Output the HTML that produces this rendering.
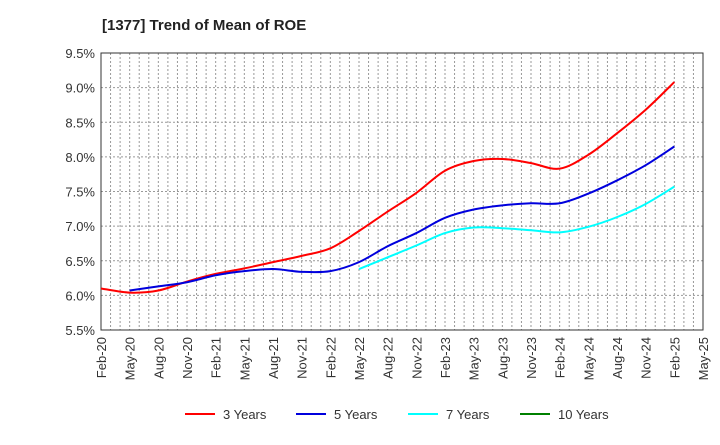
<!DOCTYPE html>
<html><head><meta charset="utf-8"><style>
body{margin:0;background:#fff;font-family:"Liberation Sans",sans-serif}
</style></head><body>
<svg width="720" height="440" xmlns="http://www.w3.org/2000/svg" font-family="Liberation Sans, sans-serif">
<text x="102" y="30" font-size="15" font-weight="bold" fill="#222">[1377]  Trend of Mean of ROE</text>
<g id="grid"></g>
<g id="axes"></g>
<g id="series"></g>
<g id="legend"></g>
</svg>
<script>
const xLabels=["Feb-20","May-20","Aug-20","Nov-20","Feb-21","May-21","Aug-21","Nov-21","Feb-22","May-22","Aug-22","Nov-22","Feb-23","May-23","Aug-23","Nov-23","Feb-24","May-24","Aug-24","Nov-24","Feb-25","May-25"];
const yTicks=[5.5,6.0,6.5,7.0,7.5,8.0,8.5,9.0,9.5];
const s3=[6.10,6.04,6.07,6.20,6.31,6.39,6.48,6.57,6.68,6.93,7.21,7.48,7.80,7.94,7.97,7.91,7.83,8.03,8.34,8.68,9.08];
const s5=[null,6.07,6.13,6.19,6.29,6.35,6.38,6.34,6.35,6.48,6.71,6.90,7.12,7.24,7.30,7.33,7.33,7.47,7.66,7.88,8.15];
const s7=[null,null,null,null,null,null,null,null,null,6.38,6.55,6.72,6.90,6.98,6.97,6.94,6.91,6.99,7.13,7.32,7.57];
const s10=[];
const L=101,R=703,T=53,B=330,NS="http://www.w3.org/2000/svg";
const xs=i=>L+(R-L)*i/21;
const ys=v=>B-(v-5.5)/4*(B-T);
function mk(t,a,p){const e=document.createElementNS(NS,t);for(const k in a)e.setAttribute(k,a[k]);p.appendChild(e);return e;}
const grid=document.getElementById('grid'),axes=document.getElementById('axes'),ser=document.getElementById('series'),leg=document.getElementById('legend');
for(let m=1;m<63;m++){const x=L+(R-L)*m/63;const l=mk('line',{x1:x,x2:x,y1:T,y2:B,stroke:'#999','stroke-dasharray':'2,2','stroke-width':1},grid);

}
yTicks.forEach(v=>{const y=ys(v);const l=mk('line',{x1:L,x2:R,y1:y,y2:y,stroke:'#999','stroke-dasharray':'2,2'},grid);


const t=mk('text',{x:L-6,y:y+5,'text-anchor':'end','font-size':13,fill:'#333'},axes);t.textContent=v.toFixed(1)+'%';

});
const fr=mk('rect',{x:L,y:T,width:R-L,height:B-T,fill:'none',stroke:'#333','stroke-width':1},axes);


xLabels.forEach((s,i)=>{const x=xs(i);const t=mk('text',{transform:`translate(${x+5},${B+7}) rotate(-90)`,'text-anchor':'end','font-size':13,fill:'#333'},axes);t.textContent=s;

});
function path(arr){const p=[];arr.forEach((v,i)=>{if(v!=null)p.push([xs(i),ys(v)]);});if(p.length<2)return '';
let d=`M${p[0][0]},${p[0][1]}`;for(let i=0;i<p.length-1;i++){const p0=p[i-1]||p[i],p1=p[i],p2=p[i+1],p3=p[i+2]||p2;
d+=` C${p1[0]+(p2[0]-p0[0])/6},${p1[1]+(p2[1]-p0[1])/6} ${p2[0]-(p3[0]-p1[0])/6},${p2[1]-(p3[1]-p1[1])/6} ${p2[0]},${p2[1]}`;}return d;}
const series=[[s3,'#ff0000','3 Years',185],[s5,'#0000dd','5 Years',296],[s7,'#00ffff','7 Years',408],[s10,'#008000','10 Years',520]];
series.forEach(([a,c,n,lx])=>{const d=path(a);if(d){const e=mk('path',{d,fill:'none',stroke:c,'stroke-width':2},ser);

}
const g=mk('g',{},leg);


mk('line',{x1:lx,x2:lx+30,y1:414,y2:414,stroke:c,'stroke-width':2},g);
const t=mk('text',{x:lx+38,y:419,'font-size':13,fill:'#333'},g);t.textContent=n;});
</script>
</body></html>
